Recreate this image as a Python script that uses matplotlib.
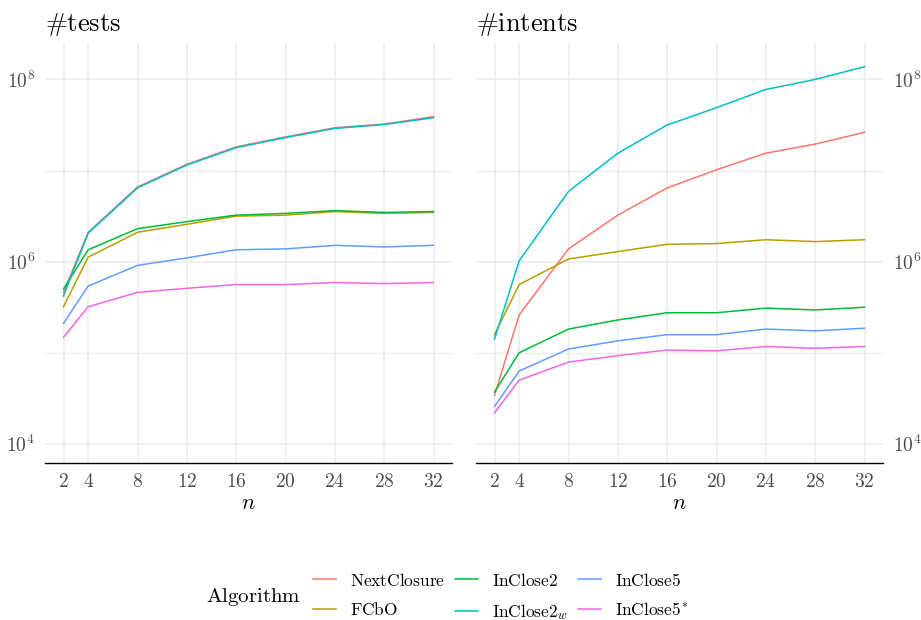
import matplotlib
matplotlib.use("Agg")
import matplotlib.pyplot as plt
from matplotlib.ticker import FixedLocator, NullFormatter

plt.rcParams["mathtext.fontset"] = "cm"
plt.rcParams["font.family"] = "serif"
plt.rcParams["font.serif"] = ["DejaVu Serif"]

n_values = [2, 4, 8, 12, 16, 20, 24, 28, 32]
algorithms = [r"$\mathrm{NextClosure}$", r"$\mathrm{FCbO}$", r"$\mathrm{InClose2}$",
              r"$\mathrm{InClose2}_w$", r"$\mathrm{InClose5}$", r"$\mathrm{InClose5}^{\!\ast}$"]
colors = ["#F8766D", "#B79F00", "#00BA38", "#00BFC4", "#619CFF", "#F564E3"]

# number of tests per algorithm
tests_nextclosure = [4.6e5, 2.1e6, 6.6e6, 1.17e7, 1.82e7, 2.34e7, 2.95e7, 3.24e7, 3.9e7]
tests_fcbo = [3.2e5, 1.12e6, 2.1e6, 2.57e6, 3.16e6, 3.24e6, 3.55e6, 3.39e6, 3.47e6]
tests_inclose2 = [5.0e5, 1.35e6, 2.3e6, 2.75e6, 3.24e6, 3.39e6, 3.63e6, 3.47e6, 3.55e6]
tests_inclose2w = [4.2e5, 2.05e6, 6.45e6, 1.15e7, 1.78e7, 2.3e7, 2.9e7, 3.2e7, 3.8e7]
tests_inclose5 = [2.1e5, 5.4e5, 9.1e5, 1.1e6, 1.35e6, 1.38e6, 1.51e6, 1.45e6, 1.51e6]
tests_inclose5s = [1.48e5, 3.2e5, 4.6e5, 5.1e5, 5.6e5, 5.6e5, 5.9e5, 5.75e5, 5.9e5]

# number of intents per algorithm
intents_nextclosure = [3.4e4, 2.6e5, 1.38e6, 3.24e6, 6.45e6, 1.02e7, 1.55e7, 1.95e7, 2.63e7]
intents_fcbo = [1.58e5, 5.6e5, 1.07e6, 1.29e6, 1.55e6, 1.58e6, 1.74e6, 1.66e6, 1.74e6]
intents_inclose2 = [3.7e4, 1.0e5, 1.82e5, 2.29e5, 2.75e5, 2.75e5, 3.09e5, 2.95e5, 3.16e5]
intents_inclose2w = [1.41e5, 1.02e6, 5.9e6, 1.55e7, 3.16e7, 4.9e7, 7.76e7, 1.0e8, 1.38e8]
intents_inclose5 = [2.57e4, 6.3e4, 1.1e5, 1.35e5, 1.58e5, 1.58e5, 1.82e5, 1.74e5, 1.86e5]
intents_inclose5s = [2.19e4, 5.0e4, 7.9e4, 9.3e4, 1.07e5, 1.05e5, 1.17e5, 1.12e5, 1.17e5]

tests = [tests_nextclosure, tests_fcbo, tests_inclose2, tests_inclose2w, tests_inclose5, tests_inclose5s]
intents = [intents_nextclosure, intents_fcbo, intents_inclose2, intents_inclose2w,
           intents_inclose5, intents_inclose5s]

fig = plt.figure(figsize=(9.21, 6.2), dpi=100)
ax1 = fig.add_axes([45/921, 1 - 463/620, 407/921, 420/620])
ax2 = fig.add_axes([476/921, 1 - 463/620, 407/921, 420/620])

grid_col = "#EBEBEB"
tick_col = "#4D4D4D"

for ax, series, title in [(ax1, tests, r"$\#\mathrm{tests}$"), (ax2, intents, r"$\#\mathrm{intents}$")]:
    for vals, col, lab in zip(series, colors, algorithms):
        ax.plot(n_values, vals, color=col, lw=1.1, label=lab, zorder=3)
    ax.set_yscale("log")
    ax.set_xlim(0.5, 33.5)
    ax.set_ylim(10**3.79, 10**8.40)
    ax.xaxis.set_major_locator(FixedLocator(n_values))
    ax.set_xticklabels([r"$%d$" % v for v in n_values])
    ax.yaxis.set_major_locator(FixedLocator([1e4, 1e6, 1e8]))
    ax.yaxis.set_minor_locator(FixedLocator([1e5, 1e7]))
    ax.yaxis.set_minor_formatter(NullFormatter())
    ax.set_yticklabels([r"$10^{4}$", r"$10^{6}$", r"$10^{8}$"])
    ax.grid(True, which="major", color=grid_col, lw=1.1, zorder=0)
    ax.grid(True, which="minor", axis="y", color=grid_col, lw=0.8, zorder=0)
    for s in ["top", "left", "right"]:
        ax.spines[s].set_visible(False)
    ax.spines["bottom"].set_color("black")
    ax.spines["bottom"].set_linewidth(1.0)
    ax.tick_params(which="both", length=0, labelsize=14, colors=tick_col, pad=7)
    ax.set_xlabel(r"$n$", fontsize=16, labelpad=1)
    ax.set_title(title, loc="left", fontsize=19, pad=9)

ax2.yaxis.tick_right()
ax2.tick_params(axis="y", labelleft=False, labelright=True)

handles, labels = ax1.get_legend_handles_labels()
leg = fig.legend(handles, labels, ncol=3, loc="center left", bbox_to_anchor=(0.323, 0.037),
                 frameon=False, fontsize=12.5, handlelength=1.3, handletextpad=0.8,
                 columnspacing=0.6, labelspacing=0.7)
fig.text(206/921, 1 - 597/620, r"$\mathrm{Algorithm}$", fontsize=15, va="center", ha="left")

fig.savefig("out.png", dpi=100)
